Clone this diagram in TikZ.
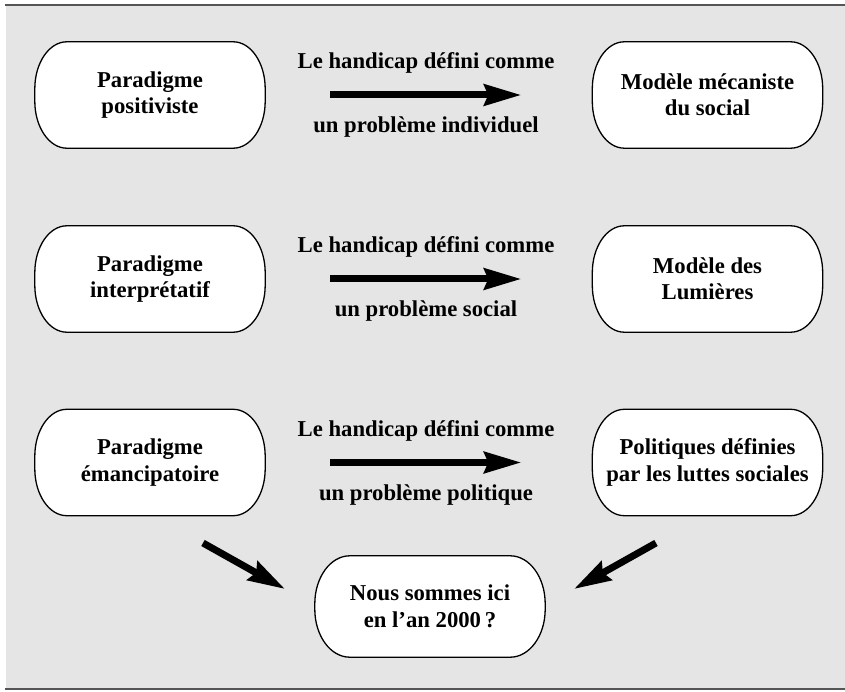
\documentclass[tikz,border=0pt]{standalone}
\usepackage{fontspec}
\setmainfont{Liberation Serif}
\usetikzlibrary{arrows.meta}
\definecolor{bggray}{HTML}{E5E5E5}
\definecolor{rulegray}{HTML}{555555}
\newcommand\ovalframe[3]{% node name, x radius, y radius
  \filldraw[boxline] ([xshift=#2]#1.north west) -- ([xshift=-#2]#1.north east)
    arc[start angle=90,end angle=0,x radius=#2,y radius=#3]
    -- ([yshift=#3]#1.south east)
    arc[start angle=0,end angle=-90,x radius=#2,y radius=#3]
    -- ([xshift=#2]#1.south west)
    arc[start angle=270,end angle=180,x radius=#2,y radius=#3]
    -- ([yshift=-#3]#1.north west)
    arc[start angle=180,end angle=90,x radius=#2,y radius=#3] -- cycle;}
\tikzset{
  boxline/.style={draw=black,fill=white,line width=1.3pt},
  oval/.style={inner sep=0pt,minimum width=230pt,minimum height=106pt,align=center,
    font=\fontsize{22.7}{26.5}\selectfont\bfseries},
  lbl/.style={inner sep=0pt,anchor=base,font=\fontsize{22.7}{26.5}\selectfont\bfseries},
  bigarrow/.style={line width=7pt,-{Stealth[length=37pt,width=21pt,inset=4pt]}},
}
\begin{document}
\begin{tikzpicture}[x=1pt,y=1pt]
\useasboundingbox (0,0) rectangle (845,691);
\fill[bggray] (6,2) rectangle (845,686);
\draw[rulegray,line width=1.5pt] (5,686) -- (845,686);
\draw[rulegray,line width=1.5pt] (5,2) -- (845,2);

% row 1
\node[oval] (p1) at (150,596) {};
\node[oval] (m1) at (707.5,596) {};
% row 2
\node[oval] (p2) at (150,412) {};
\node[oval] (m2) at (707.5,412) {};
% row 3
\node[oval] (p3) at (150,228.5) {};
\node[oval] (m3) at (707.5,228.5) {};
% bottom
\node[oval,minimum height=101pt] (q) at (430,84.5) {};

\foreach \n in {p1,m1,p2,m2,p3,m3}{\ovalframe{\n}{32pt}{47pt}}
\ovalframe{q}{35pt}{48pt}

\node[oval] (p1t) at (p1) {Paradigme\\positiviste};
\node[oval] (m1t) at (m1) {Modèle mécaniste\\du social};
\node[oval] (p2t) at (p2) {Paradigme\\interprétatif};
\node[oval] (m2t) at (m2) {Modèle des\\Lumières};
\node[oval] (p3t) at (p3) {Paradigme\\émancipatoire};
\node[oval] (m3t) at (m3) {Politiques définies\\par les luttes sociales};
\node[oval,minimum height=101pt] (qt) at (q) {Nous sommes ici\\en l’an 2000\,?};

% arrow labels
\node[lbl] (a1) at (426,622) {Le handicap défini comme};
\node[lbl] (b1) at (426,558) {un problème individuel};
\node[lbl] (a2) at (426,438) {Le handicap défini comme};
\node[lbl] (b2) at (426,374) {un problème social};
\node[lbl] (a3) at (426,254.5) {Le handicap défini comme};
\node[lbl] (b3) at (426,190.5) {un problème politique};

% horizontal arrows
\draw[bigarrow,shorten <=65pt,shorten >=71pt] (p1.east) -- (m1.west);
\draw[bigarrow,shorten <=65pt,shorten >=71pt] (p2.east) -- (m2.west);
\draw[bigarrow,shorten <=65pt,shorten >=71pt] (p3.east) -- (m3.west);

% diagonal arrows
\coordinate (l1) at (203,148);
\coordinate (l2) at (285,102);
\coordinate (r1) at (656,148);
\coordinate (r2) at (574,102);
\draw[bigarrow] (l1) -- (l2);
\draw[bigarrow] (r1) -- (r2);
\end{tikzpicture}
\end{document}
